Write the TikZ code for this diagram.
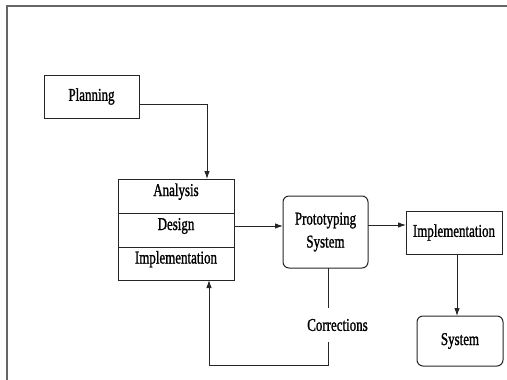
\documentclass[tikz,border=0pt]{standalone}
\usepackage{fontspec}
\setmainfont[FakeStretch=0.72, FakeBold=1.2]{Liberation Serif}
\usetikzlibrary{arrows.meta,positioning}

\begin{document}
\begin{tikzpicture}[
            x=1pt, y=-1pt,
            box/.style={draw=black!85, line width=1pt, minimum width=95pt, minimum height=43pt, align=center, inner sep=0pt, outer sep=0pt, font=\fontsize{18}{23}\selectfont},
            cell/.style={box, minimum width=116pt, minimum height=34pt, text height=11pt, text depth=11pt},
            roundbox/.style={box, rounded corners=6pt},
            arrow/.style={-{Latex[length=8pt,width=5.5pt]}, line width=0.9pt, draw=black!85},
            frame/.style={draw=black!60, line width=1.4pt}
        ]
        \useasboundingbox (0,0) rectangle (507,380);
        \draw[frame] (7,382) -- (7,6) -- (510,6);

        % Planning and the stacked phases
        \node[box] (plan) at (91.5,96.5) {Planning};
        \node[cell] (analysis) at (176,196) {Analysis};
        \node[cell, below=0pt of analysis] (design) {Design};
        \node[cell, below=0pt of design, minimum height=33pt] (impl) {Implementation};

        % Prototype and the final steps
        \node[roundbox, minimum width=85pt, minimum height=72pt] (proto) at (325.5,232) {Prototyping\\System};
        \node[box, minimum width=96pt] (implbox) at (454,232.5) {Implementation};
        \node[roundbox, minimum width=86pt, minimum height=50pt] (system) at (460,341) {System};

        % Main arrows
        \draw[arrow] ([yshift=-7.5]plan.east) -| ([xshift=31]analysis.north);
        \draw[arrow] ([yshift=4]design.east) -- ([yshift=4]design.east -| proto.west);
        \draw[arrow] ([yshift=7]proto.east) -- ([yshift=7]proto.east -| implbox.west);
        \draw[arrow] ([xshift=3]implbox.south) -- ([xshift=3]implbox.south |- system.north);

        % Corrections loop
        \draw[arrow] ([xshift=2.5]proto.south) -- ++(0,97) -| ([xshift=33]impl.south);
        \node[fill=white, minimum height=34pt, inner sep=1pt, font=\fontsize{18}{20}\selectfont] (corr) at (337.5,325) {Corrections};
    \end{tikzpicture}
\end{document}
